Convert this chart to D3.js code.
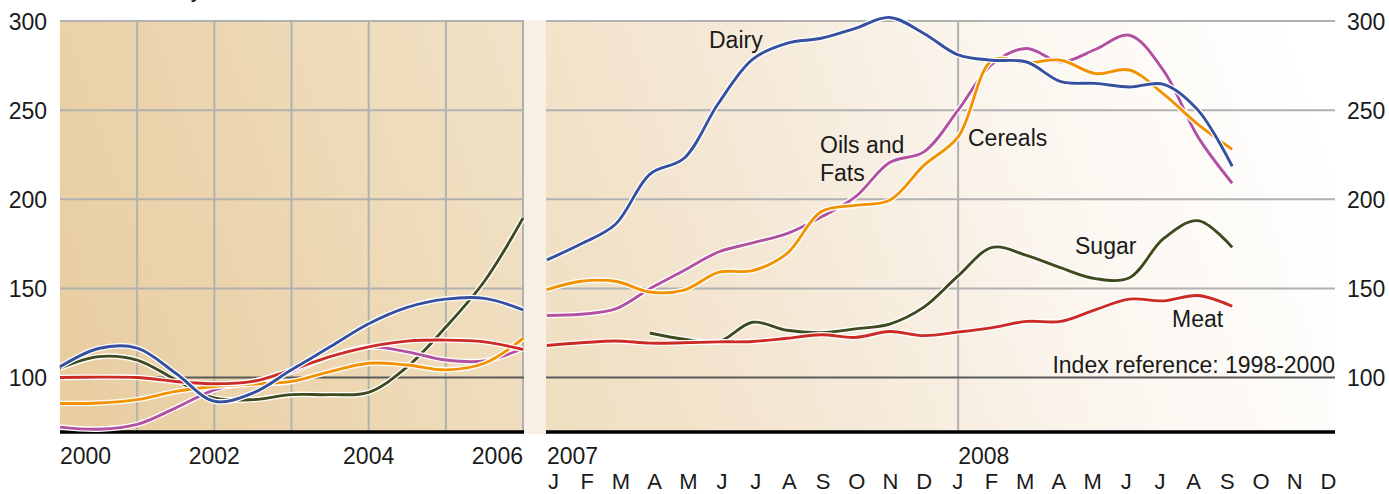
<!DOCTYPE html>
<html>
<head>
<meta charset="utf-8">
<script src="https://cdn.jsdelivr.net/npm/d3@7"></script>
<style>
  html, body { margin: 0; padding: 0; background: #fff; }
  svg { display: block; font-family: "Liberation Sans", Arial, sans-serif; }
  .tick text { font-size: 23px; fill: #1a1a1a; }
  .lbl { font-size: 23px; fill: #1a1a1a; }
  .months .tick text { font-size: 22px; }
</style>
</head>
<body>
<svg id="chart" width="1389" height="494"></svg>
<script>
// half-yearly points, 2000-2006
const annualX = [2000, 2000.5, 2001, 2001.5, 2002, 2002.5, 2003, 2003.5, 2004, 2004.5, 2005, 2005.5, 2006];
const dairyAnnual = [106, 116.3, 116.5, 102.4, 86.7, 91.3, 104.3, 117.2, 130.2, 139.4, 144, 144.4, 138];
const sugarAnnual = [105.2, 111.7, 109.8, 98.7, 88.5, 87.6, 90.4, 90.4, 91.7, 106, 128.3, 154, 189.4];
const meatAnnual = [100, 100.2, 100, 97.8, 96.5, 97.8, 104.3, 111.7, 117.2, 120.4, 121, 120, 115.7];
const cerealsAnnual = [85.4, 85.7, 87.6, 92.2, 95, 96.3, 97.8, 103.3, 108, 107, 104.3, 108, 121.9];
const oilsAnnual = [72.2, 71, 73.7, 83, 93.1, 97.8, 103.3, 111.7, 117.2, 114.4, 109.8, 109.3, 116.3];

// monthly points, Jan 2007 - Sep 2008 (index 0 = Jan 2007)
const monthIndex = [0, 1, 2, 3, 4, 5, 6, 7, 8, 9, 10, 11, 12, 13, 14, 15, 16, 17, 18, 19, 20];
const dairyMonthly = [166, 175, 186, 214, 223, 253.7, 278.5, 287.5, 290.3, 295.9, 302, 293, 281, 278, 277, 266, 265, 263, 264.5, 250, 218.5];
const cerealsMonthly = [149.3, 154, 154, 148, 149, 159, 160, 169.5, 193, 196.6, 199.4, 219, 235, 278, 276.5, 278, 270.5, 272.5, 259, 242, 228];
const oilsMonthly = [134.8, 135.5, 138.5, 149.8, 160, 170.4, 175.5, 180.7, 190, 201.3, 220.6, 226.6, 250, 276, 284.6, 277, 284, 292, 272, 235, 209];
const sugarMonthly = [null, null, null, 125, 121.5, 120, 131, 126.5, 125.2, 127.3, 130, 139.5, 157, 173, 168.5, 161.5, 155.5, 156, 178, 188, 173];
const meatMonthly = [118, 119.5, 120.5, 119.3, 119.5, 120, 120.2, 122, 124, 122.5, 125.8, 123.5, 125.5, 128, 131.5, 131.5, 138, 144, 143, 146, 140];

const yTicks = [100, 150, 200, 250, 300];
const yearTicks = [2000, 2002, 2004, 2006];
const yearGrid = [2001, 2002, 2003, 2004, 2005, 2006];
const monthLetters = ["J", "F", "M", "A", "M", "J", "J", "A", "S", "O", "N", "D",
                      "J", "F", "M", "A", "M", "J", "J", "A", "S", "O", "N", "D"];
const monthYears = [{ label: "2007", i: 0 }, { label: "2008", i: 12 }];

const COLORS = {
  dairy: "#34509f",
  oils: "#b2519f",
  cereals: "#f39200",
  sugar: "#3f4a1e",
  meat: "#cc2b25",
};

const svg = d3.select("#chart");

const plotTop = 21;
const plotBottom = 431;
const leftX0 = 60;
const leftX1 = 523;
const rightX0 = 546;
const rightX1 = 1335;

const y = d3.scaleLinear().domain([70, 300]).range([plotBottom, plotTop]);
const xLeft = d3.scaleLinear().domain([2000, 2006]).range([leftX0, leftX1]);
const xRight = d3.scaleLinear().domain([0, 23]).range([547, rightX1]);

// background
const defs = svg.append("defs");
const grad = defs.append("linearGradient")
  .attr("id", "bg")
  .attr("gradientUnits", "userSpaceOnUse")
  .attr("x1", 60).attr("y1", 433).attr("x2", 1290).attr("y2", 21);
[[0, "#e8cc9f"], [0.3, "#eedbb9"], [0.55, "#f4e7d4"], [0.78, "#fbf6ef"], [1, "#ffffff"]]
  .forEach(([o, c]) => grad.append("stop").attr("offset", o).attr("stop-color", c));

svg.append("rect")
  .attr("x", leftX0).attr("y", plotTop)
  .attr("width", rightX1 - leftX0).attr("height", plotBottom - plotTop)
  .attr("fill", "url(#bg)");

// grid
const grid = svg.append("g").attr("stroke", "#b1b1b1").attr("stroke-width", 2);
grid.selectAll("line.v")
  .data(yearGrid)
  .join("line")
  .attr("x1", (d) => xLeft(d)).attr("x2", (d) => xLeft(d))
  .attr("y1", plotTop).attr("y2", plotBottom);
grid.append("line")
  .attr("x1", xRight(12)).attr("x2", xRight(12))
  .attr("y1", plotTop).attr("y2", plotBottom);
grid.selectAll("line.h")
  .data(yTicks.filter((d) => d !== 100))
  .join("line")
  .attr("x1", leftX0).attr("x2", rightX1)
  .attr("y1", (d) => y(d)).attr("y2", (d) => y(d));

svg.append("line")
  .attr("x1", leftX0).attr("x2", rightX1)
  .attr("y1", y(100)).attr("y2", y(100))
  .attr("stroke", "#5a5a5a").attr("stroke-width", 2);

svg.append("line")
  .attr("x1", leftX0).attr("x2", rightX1)
  .attr("y1", plotBottom + 1).attr("y2", plotBottom + 1)
  .attr("stroke", "#000").attr("stroke-width", 3.5);

// gap between periods
svg.append("rect")
  .attr("x", leftX1 + 1).attr("y", plotTop - 1)
  .attr("width", rightX0 - leftX1 - 1).attr("height", plotBottom - plotTop + 4)
  .attr("fill", "#f8f0e4");

// lines
const lineLeft = d3.line()
  .defined((d) => d[1] != null)
  .x((d) => xLeft(d[0]))
  .y((d) => y(d[1]))
  .curve(d3.curveCatmullRom.alpha(0.5));
const lineRight = d3.line()
  .defined((d) => d[1] != null)
  .x((d) => xRight(d[0]))
  .y((d) => y(d[1]))
  .curve(d3.curveCatmullRom.alpha(0.5));

const series = [
  { key: "sugar", annual: sugarAnnual, monthly: sugarMonthly },
  { key: "oils", annual: oilsAnnual, monthly: oilsMonthly },
  { key: "cereals", annual: cerealsAnnual, monthly: cerealsMonthly },
  { key: "meat", annual: meatAnnual, monthly: meatMonthly },
  { key: "dairy", annual: dairyAnnual, monthly: dairyMonthly },
];

const lines = svg.append("g").attr("fill", "none").attr("stroke-linejoin", "round");
series.forEach((s) => {
  const a = annualX.map((x, i) => [x, s.annual[i]]);
  const m = monthIndex.map((x, i) => [x, s.monthly[i]]);
  [[a, lineLeft], [m, lineRight]].forEach(([pts, gen]) => {
    lines.append("path").attr("d", gen(pts))
      .attr("stroke", "#fff").attr("stroke-width", 5.5);
    lines.append("path").attr("d", gen(pts))
      .attr("stroke", COLORS[s.key]).attr("stroke-width", 2.9);
  });
});

// y axes
svg.append("g")
  .attr("transform", `translate(${leftX0 - 13},0)`)
  .call(d3.axisLeft(y).tickValues(yTicks).tickSize(0).tickPadding(0))
  .call((g) => g.select(".domain").remove())
  .selectAll("text").attr("dy", "0.36em");

svg.append("g")
  .attr("transform", `translate(${rightX1 + 12},0)`)
  .call(d3.axisRight(y).tickValues(yTicks).tickSize(0).tickPadding(0))
  .call((g) => g.select(".domain").remove())
  .selectAll("text").attr("dy", "0.36em");

// x labels
svg.append("g")
  .selectAll("text")
  .data(yearTicks)
  .join("text")
  .attr("class", "lbl")
  .attr("x", (d) => xLeft(d))
  .attr("y", 464)
  .attr("text-anchor", (d, i) => (i === 0 ? "start" : i === yearTicks.length - 1 ? "end" : "middle"))
  .text((d) => d);

svg.append("g")
  .selectAll("text")
  .data(monthYears)
  .join("text")
  .attr("class", "lbl")
  .attr("x", (d) => xRight(d.i))
  .attr("y", 464)
  .text((d) => d.label);

const xMonths = d3.scalePoint().domain(d3.range(monthLetters.length)).range([553, 1328]);
svg.append("g")
  .attr("class", "months")
  .attr("transform", "translate(0,489)")
  .call(d3.axisBottom(xMonths).tickSize(0).tickPadding(0).tickFormat((i) => monthLetters[i]))
  .call((g) => g.select(".domain").remove())
  .selectAll("text").attr("dy", 0);

// labels
const labels = [
  { text: ["Dairy"], x: 709, y: 48 },
  { text: ["Oils and", "Fats"], x: 820, y: 153 },
  { text: ["Cereals"], x: 968, y: 146 },
  { text: ["Sugar"], x: 1075, y: 254 },
  { text: ["Meat"], x: 1172, y: 327 },
];
labels.forEach((l) => {
  const t = svg.append("text").attr("class", "lbl").attr("x", l.x).attr("y", l.y);
  l.text.forEach((s, i) => t.append("tspan").attr("x", l.x).attr("dy", i ? 28 : 0).text(s));
});

svg.append("text")
  .attr("class", "lbl")
  .attr("x", rightX1)
  .attr("y", 373)
  .attr("text-anchor", "end")
  .text("Index reference: 1998-2000");

// title, cut off at top edge
svg.append("text")
  .attr("class", "lbl")
  .attr("x", 114)
  .attr("y", -3)
  .text("Annually");
</script>
</body>
</html>
